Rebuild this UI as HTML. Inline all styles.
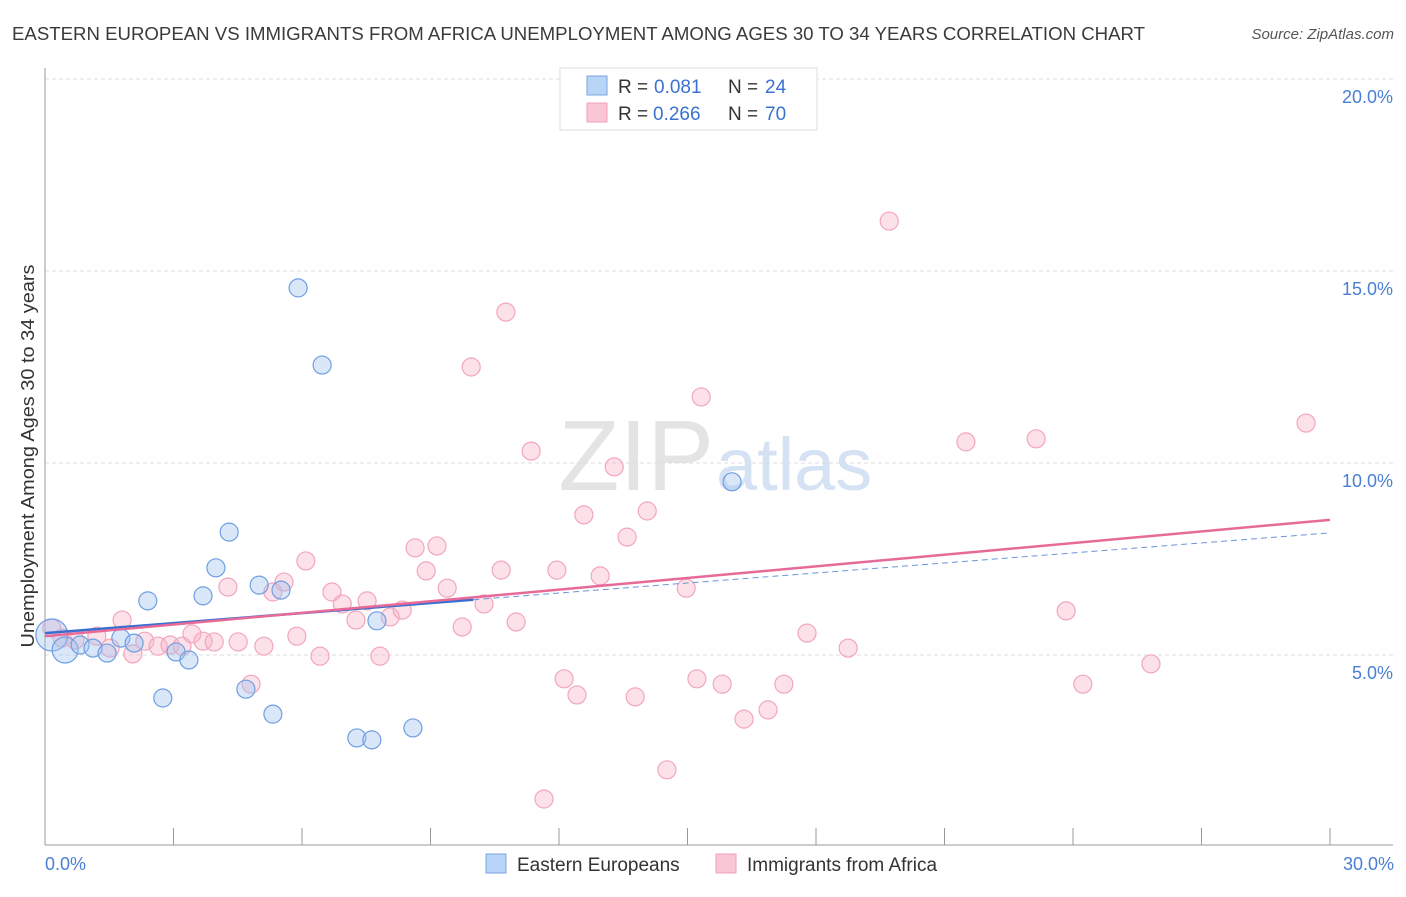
<!DOCTYPE html>
<html><head><meta charset="utf-8"><style>
body{margin:0;background:#fff;font-family:"Liberation Sans",sans-serif}
svg text{font-family:"Liberation Sans",sans-serif}
</style></head><body>
<svg id="c" width="1406" height="892">
<text x="12" y="40" font-size="18" fill="#3a3a3a" textLength="1133" lengthAdjust="spacingAndGlyphs">EASTERN EUROPEAN VS IMMIGRANTS FROM AFRICA UNEMPLOYMENT AMONG AGES 30 TO 34 YEARS CORRELATION CHART</text>
<text x="1394" y="39" font-size="15" fill="#555" text-anchor="end" font-style="italic">Source: ZipAtlas.com</text>
<text x="714" y="490" font-size="100" fill="#e4e4e4" text-anchor="end" font-family="Liberation Serif">ZIP</text>
<text x="716" y="490" font-size="74" fill="#d4e2f4">atlas</text>
<g id="grid"></g><g id="axes"></g><g id="pts"></g><g id="trend"></g>
<text transform="translate(34,456) rotate(-90)" font-size="18" fill="#333" text-anchor="middle" textLength="383" lengthAdjust="spacingAndGlyphs">Unemployment Among Ages 30 to 34 years</text>
<text x="45" y="870" font-size="18" fill="#4a7fd4">0.0%</text>
<text x="1394" y="870" font-size="18" fill="#4a7fd4" text-anchor="end">30.0%</text>
<g>
<rect x="560" y="68" width="257" height="62" fill="#fff" stroke="#ddd"/>
<rect x="587" y="76" width="20" height="19" fill="#b8d4f6" stroke="#7aa6e0"/>
<rect x="587" y="103" width="20" height="19" fill="#f9c6d5" stroke="#f0a0b8"/>
<text x="618" y="93" font-size="19" fill="#333">R = </text><text x="654" y="93" font-size="19" fill="#3a72d0">0.081</text>
<text x="728" y="93" font-size="19" fill="#333">N = </text><text x="765" y="93" font-size="19" fill="#3a72d0">24</text>
<text x="618" y="120" font-size="19" fill="#333">R = </text><text x="653" y="120" font-size="19" fill="#3a72d0">0.266</text>
<text x="728" y="120" font-size="19" fill="#333">N = </text><text x="765" y="120" font-size="19" fill="#3a72d0">70</text>
</g>
<g>
<rect x="486" y="854" width="20" height="19" fill="#b8d4f6" stroke="#7aa6e0"/>
<text x="517" y="871" font-size="19" fill="#333">Eastern Europeans</text>
<rect x="716" y="854" width="20" height="19" fill="#f9c6d5" stroke="#f0a0b8"/>
<text x="747" y="871" font-size="19" fill="#333">Immigrants from Africa</text>
</g>
</svg>
<script>
const blueX=[0.16,0.47,0.82,1.12,1.45,1.77,2.08,2.40,2.75,3.06,3.36,3.69,3.99,4.30,4.69,5.00,5.32,5.51,5.91,6.47,7.28,7.63,7.75,8.59,16.04];
const blueY=[5.52,5.13,5.26,5.18,5.05,5.44,5.31,6.41,3.88,5.08,4.87,6.54,7.27,8.20,4.11,6.82,3.46,6.69,14.56,12.55,2.84,2.79,5.89,3.10,9.51];
const blueR=[16,13,9,9,9,9,9,9,9,9,9,9,9,9,9,9,9,9,9,9,9,9,9,9,9];
const pinkX=[0.16,0.40,0.70,1.21,1.52,1.80,2.05,2.33,2.64,2.92,3.20,3.43,3.69,3.95,4.27,4.51,4.81,5.11,5.32,5.58,5.88,6.09,6.42,6.70,6.94,7.26,7.52,7.82,8.06,8.34,8.64,8.90,9.15,9.39,9.74,9.95,10.25,10.65,10.76,11.00,11.35,11.65,11.95,12.12,12.42,12.58,12.96,13.29,13.59,13.78,14.06,14.52,14.97,15.22,15.32,15.81,16.32,16.88,17.25,17.79,18.75,19.71,21.50,23.14,23.84,24.23,25.82,29.44];
const pinkY=[5.70,5.44,5.39,5.49,5.18,5.91,5.03,5.36,5.23,5.26,5.23,5.55,5.36,5.34,6.77,5.34,4.24,5.23,6.64,6.90,5.49,7.45,4.97,6.64,6.33,5.91,6.41,4.97,5.99,6.17,7.79,7.19,7.84,6.74,5.73,12.50,6.33,7.21,13.93,5.86,10.31,1.25,7.21,4.38,3.96,8.65,7.06,9.90,8.07,3.91,8.75,2.01,6.74,4.38,11.72,4.24,3.33,3.57,4.24,5.57,5.18,16.30,10.55,10.63,6.15,4.24,4.77,11.04];
const yTicks=[5,10,15,20];
const yTickLabels=["5.0%","10.0%","15.0%","20.0%"];
const xTicks=[0,3,6,9,12,15,18,21,24,27,30];
const blueTrend=[5.57,8.18];
const pinkTrend=[5.49,8.52];
const X=v=>45+v/30*1285, Y=v=>847-v*38.4;
const NS="http://www.w3.org/2000/svg";
function mk(p,t,a){const e=document.createElementNS(NS,t);for(const k in a)e.setAttribute(k,a[k]);p.appendChild(e);return e;}
const g=document.getElementById('grid'),ax=document.getElementById('axes'),pts=document.getElementById('pts'),tr=document.getElementById('trend');
yTicks.forEach((v,i)=>{
 const l=mk(g,'line',{x1:45,x2:1393,y1:Y(v),y2:Y(v),stroke:'#ddd','stroke-dasharray':'4,3'});
 
 
 const t=mk(g,'text',{x:1393,y:Y(v)+24,'font-size':18,fill:'#4a7fd4','text-anchor':'end'});
 t.textContent=yTickLabels[i];
 
 
});
const ya=mk(ax,'line',{x1:45,x2:45,y1:68,y2:845,stroke:'#999'});


const xa=mk(ax,'line',{x1:45,x2:1393,y1:845,y2:845,stroke:'#999'});


xTicks.forEach(v=>{const t=mk(ax,'line',{x1:X(v),x2:X(v),y1:828,y2:845,stroke:'#999'});
 
 });
pinkX.forEach((v,i)=>{const c=mk(pts,'circle',{cx:X(v),cy:Y(pinkY[i]),r:9,fill:'rgba(248,180,200,0.4)',stroke:'#f2a6bd','stroke-width':1.2});
 
 });
blueX.forEach((v,i)=>{const c=mk(pts,'circle',{cx:X(v),cy:Y(blueY[i]),r:blueR[i],fill:'rgba(160,196,240,0.4)',stroke:'#6e9fe2','stroke-width':1.2});
 
 });
const bAt=x=>blueTrend[0]+(blueTrend[1]-blueTrend[0])*x/30;
const b1=mk(tr,'line',{x1:X(0),y1:Y(bAt(0)),x2:X(10),y2:Y(bAt(10)),stroke:'#3a6fd0','stroke-width':2.5});


const b2=mk(tr,'line',{x1:X(10),y1:Y(bAt(10)),x2:X(30),y2:Y(bAt(30)),stroke:'#6a95d8','stroke-width':1,'stroke-dasharray':'6,4'});


const p=mk(tr,'line',{x1:X(0),y1:Y(pinkTrend[0]),x2:X(30),y2:Y(pinkTrend[1]),stroke:'#e76a98','stroke-width':2.5});


</script>
</body></html>
